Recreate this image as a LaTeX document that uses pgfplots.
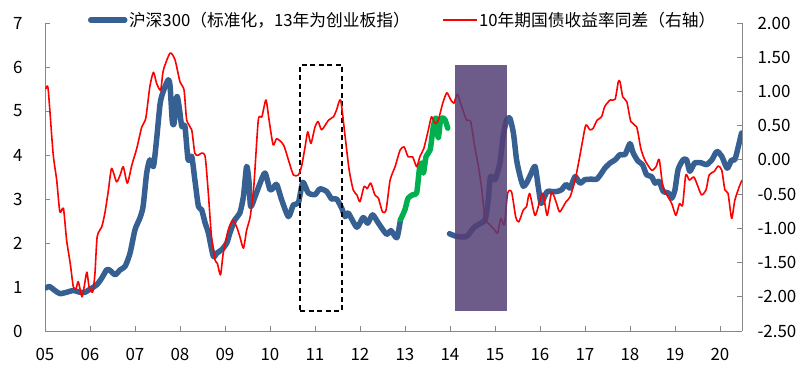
\documentclass[border=0pt]{standalone}
\usepackage{fontspec}
\setmainfont{Noto Sans CJK SC}
\usepackage{pgfplots}
\pgfplotsset{compat=1.18}
\definecolor{hsblue}{RGB}{55,96,146}
\definecolor{hsgreen}{RGB}{0,176,80}
\definecolor{axgray}{RGB}{134,134,134}
\definecolor{boxpurple}{RGB}{84,63,118}
\pgfplotsset{
  base/.style={
    scale only axis, width=697bp, height=308bp,
    xmin=2005, xmax=2020.49,
    tick style={axgray, line width=0.8bp},
    major tick length=5bp,
    tick align=inside,
    ticklabel style={font=\fontsize{17}{20}\selectfont, text=black},
    /pgf/number format/assume math mode=true,
    axis line style={axgray, line width=1bp},
    legend image code/.code={\draw[#1] (0bp,0bp) -- (34bp,0bp);},
    legend style={draw=none, fill=none, inner sep=0pt, outer sep=0pt,
      font=\fontsize{16.8}{18}\selectfont, anchor=west,
      nodes={inner sep=1.5bp}},
  }
}
\begin{document}
\begin{tikzpicture}
\useasboundingbox (-45bp,-43bp) rectangle (762bp,331bp);
\begin{axis}[base,
  axis y line*=left, axis x line*=bottom,
  ymin=0, ymax=7, ytick={0,1,2,3,4,5,6,7},
  yticklabel style={xshift=-19bp},
  xticklabel style={yshift=-14bp},
  xtick={2005,2006,2007,2008,2009,2010,2011,2012,2013,2014,2015,2016,2017,2018,2019,2020},
  xticklabels={05,06,07,08,09,10,11,12,13,14,15,16,17,18,19,20},
  legend style={at={(0.0617,1.0097)}},
]
\addplot[hsblue, line width=5.5bp, line join=round, line cap=round, smooth, tension=0.4] coordinates {
(2005.02,0.98) (2005.10,1.01) (2005.22,0.92) (2005.33,0.85) (2005.48,0.88) (2005.63,0.92)
(2005.78,0.88) (2005.89,0.88) (2006.00,0.95) (2006.15,1.05) (2006.26,1.20) (2006.37,1.39)
(2006.44,1.38) (2006.56,1.28) (2006.67,1.39) (2006.78,1.47) (2006.89,1.77) (2007.00,2.30)
(2007.11,2.57) (2007.18,2.83) (2007.26,3.59) (2007.33,3.89) (2007.41,3.74) (2007.48,4.35)
(2007.56,5.18) (2007.64,5.48) (2007.74,5.71) (2007.78,5.56) (2007.83,4.76) (2007.87,4.73)
(2007.93,5.33) (2007.98,5.10) (2008.04,4.65) (2008.11,4.65) (2008.18,3.89) (2008.26,3.97)
(2008.33,3.44) (2008.41,2.83) (2008.48,2.76) (2008.56,2.45) (2008.63,2.23) (2008.74,1.70)
(2008.82,1.77) (2008.93,1.85) (2009.04,2.00) (2009.11,2.23) (2009.22,2.53) (2009.33,2.68)
(2009.41,3.06) (2009.48,3.74) (2009.53,3.44) (2009.57,2.83) (2009.67,3.06) (2009.78,3.36)
(2009.89,3.59) (2010.00,3.21) (2010.07,3.25) (2010.15,3.33) (2010.26,2.98) (2010.41,2.60)
(2010.52,2.87) (2010.63,2.91) (2010.73,3.38) (2010.85,3.14) (2011.00,3.10) (2011.11,3.23)
(2011.26,3.17) (2011.37,3.00) (2011.48,3.00) (2011.59,2.80) (2011.67,2.60) (2011.74,2.68)
(2011.93,2.36) (2012.07,2.58) (2012.17,2.45) (2012.28,2.64) (2012.41,2.45) (2012.59,2.20)
(2012.69,2.28) (2012.82,2.12) (2012.90,2.53)
};
\addlegendentry{沪深300（标准化，13年为创业板指）}
\addplot[hsgreen, line width=5.5bp, line join=round, line cap=round, smooth, tension=0.4, forget plot] coordinates {
(2012.90,2.53) (2013.00,2.76) (2013.07,3.02) (2013.18,3.10) (2013.26,3.14) (2013.32,3.67)
(2013.37,3.82) (2013.41,3.59) (2013.47,3.97) (2013.56,4.12) (2013.63,4.65) (2013.69,4.84)
(2013.74,4.39) (2013.79,4.80) (2013.84,4.84) (2013.89,4.80) (2013.95,4.61)
};
\addplot[hsblue, line width=5.5bp, line join=round, line cap=round, smooth, tension=0.4, forget plot] coordinates {
(2013.99,2.21) (2014.15,2.15) (2014.37,2.15) (2014.52,2.34) (2014.63,2.42) (2014.78,2.53)
(2014.85,2.98) (2014.90,3.51) (2015.00,3.44) (2015.11,3.82) (2015.18,4.42) (2015.26,4.80)
(2015.33,4.84) (2015.41,4.50) (2015.48,3.89) (2015.56,3.51) (2015.63,3.29) (2015.70,3.36)
(2015.79,3.55) (2015.89,3.74) (2015.96,3.29) (2016.02,2.91) (2016.07,2.98) (2016.16,3.17)
(2016.26,3.17) (2016.37,3.17) (2016.48,3.21) (2016.58,3.33) (2016.67,3.25) (2016.78,3.51)
(2016.89,3.36) (2017.00,3.44) (2017.15,3.45) (2017.26,3.45) (2017.37,3.59) (2017.44,3.70)
(2017.56,3.82) (2017.67,3.89) (2017.78,4.01) (2017.89,4.01) (2018.00,4.26) (2018.07,4.05)
(2018.18,3.86) (2018.28,3.78) (2018.37,3.55) (2018.48,3.51) (2018.56,3.36) (2018.65,3.40)
(2018.74,3.17) (2018.85,3.14) (2018.93,3.02) (2019.00,3.21) (2019.07,3.67) (2019.18,3.89)
(2019.26,3.89) (2019.33,3.63) (2019.44,3.82) (2019.59,3.82) (2019.70,3.78) (2019.82,3.89)
(2019.93,4.08) (2020.04,3.97) (2020.16,3.70) (2020.26,3.89) (2020.33,3.89) (2020.41,4.20)
(2020.48,4.50)
};
\addplot[black, line width=2bp, dash pattern=on 5bp off 3.5bp, line join=miter, forget plot] coordinates {
(2010.67,0.445) (2011.59,0.445) (2011.59,6.05) (2010.67,6.05)
} -- cycle;
\end{axis}
\begin{axis}[base,
  axis y line*=right, axis x line=none,
  ymin=-2.5, ymax=2,
  ytick={-2.5,-2,-1.5,-1,-0.5,0,0.5,1,1.5,2},
  yticklabel style={xshift=12bp, /pgf/number format/.cd, fixed, fixed zerofill, precision=2},
  legend style={at={(0.5696,1.0097)}},
]
\addplot[red, line width=1.6bp, line join=round, smooth, tension=0.4] coordinates {
(2005.02,1.035) (2005.07,1.035) (2005.18,0.095) (2005.26,-0.295) (2005.33,-0.76) (2005.41,-0.71)
(2005.48,-1.17) (2005.56,-1.51) (2005.63,-1.855) (2005.69,-1.88) (2005.74,-1.78) (2005.82,-2.00)
(2005.87,-1.855) (2005.93,-1.64) (2005.98,-1.855) (2006.06,-1.93) (2006.11,-1.66) (2006.16,-1.12)
(2006.26,-0.98) (2006.33,-0.78) (2006.41,-0.44) (2006.48,-0.125) (2006.59,-0.32) (2006.67,-0.22)
(2006.74,-0.10) (2006.83,-0.34) (2006.93,-0.076) (2007.04,0.17) (2007.15,0.48) (2007.24,0.61)
(2007.33,1.07) (2007.41,1.28) (2007.48,1.12) (2007.57,1.02) (2007.63,1.31) (2007.78,1.56)
(2007.89,1.46) (2008.00,1.14) (2008.09,1.02) (2008.15,0.58) (2008.26,0.44) (2008.33,0.095)
(2008.41,0.07) (2008.48,0.10) (2008.56,0.045) (2008.63,-0.49) (2008.70,-1.12) (2008.78,-1.465)
(2008.83,-1.51) (2008.90,-1.68) (2008.96,-1.37) (2009.07,-1.03) (2009.17,-0.88) (2009.26,-0.98)
(2009.33,-1.12) (2009.41,-1.29) (2009.48,-1.03) (2009.56,-0.83) (2009.64,-0.39) (2009.74,0.58)
(2009.82,0.63) (2009.91,0.875) (2009.98,0.58) (2010.07,0.22) (2010.15,0.31) (2010.30,0.22)
(2010.41,0.0) (2010.52,-0.22) (2010.63,-0.22) (2010.70,-0.10) (2010.78,0.19) (2010.84,0.41)
(2010.91,0.24) (2011.00,0.48) (2011.07,0.56) (2011.15,0.44) (2011.30,0.58) (2011.41,0.63)
(2011.48,0.73) (2011.57,0.875) (2011.67,0.34) (2011.76,-0.15) (2011.85,-0.44) (2011.93,-0.51)
(2012.00,-0.61) (2012.09,-0.39) (2012.16,-0.42) (2012.24,-0.34) (2012.33,-0.51) (2012.41,-0.56)
(2012.50,-0.76) (2012.58,-0.73) (2012.67,-0.295) (2012.78,-0.10) (2012.89,0.14) (2012.98,0.19)
(2013.07,0.045) (2013.17,0.045) (2013.26,-0.10) (2013.33,0.045) (2013.42,0.17) (2013.52,0.44)
(2013.59,0.63) (2013.67,0.53) (2013.74,0.58) (2013.84,0.83) (2013.93,0.98) (2014.02,0.875)
(2014.09,0.83) (2014.16,0.96) (2014.26,0.78) (2014.37,0.58) (2014.46,0.56) (2014.55,0.19)
(2014.62,-0.05) (2014.70,-0.39) (2014.78,-0.855) (2014.89,-0.95) (2015.00,-1.03) (2015.06,-1.07)
(2015.13,-0.855) (2015.21,-0.95) (2015.28,-0.49) (2015.37,-0.47) (2015.46,-0.83) (2015.53,-0.905)
(2015.63,-0.73) (2015.70,-0.685) (2015.77,-0.49) (2015.89,-0.81) (2016.00,-0.59) (2016.07,-0.49)
(2016.16,-0.81) (2016.26,-0.47) (2016.37,-0.64) (2016.44,-0.76) (2016.58,-0.61) (2016.67,-0.54)
(2016.78,-0.295) (2016.87,0.0) (2016.95,0.29) (2017.02,0.51) (2017.11,0.44) (2017.18,0.46)
(2017.27,0.58) (2017.37,0.63) (2017.44,0.78) (2017.56,0.875) (2017.67,0.885) (2017.74,1.14)
(2017.78,1.14) (2017.84,0.92) (2017.93,0.85) (2018.02,0.56) (2018.15,0.48) (2018.24,0.17)
(2018.33,0.0) (2018.48,-0.15) (2018.58,-0.10) (2018.65,0.007) (2018.73,-0.39) (2018.82,-0.51)
(2018.93,-0.64) (2019.02,-0.81) (2019.10,-0.64) (2019.17,-0.66) (2019.24,-0.22) (2019.32,-0.295)
(2019.42,-0.25) (2019.50,-0.37) (2019.59,-0.51) (2019.69,-0.44) (2019.76,-0.22) (2019.87,-0.17)
(2019.96,-0.09) (2020.04,-0.15) (2020.11,-0.44) (2020.18,-0.49) (2020.26,-0.855) (2020.33,-0.59)
(2020.43,-0.39) (2020.49,-0.295)
};
\addlegendentry{10年期国债收益率同差（右轴）}
\addplot[draw=none, fill=boxpurple, fill opacity=0.85, forget plot] coordinates {
(2014.11,-2.214) (2015.26,-2.214) (2015.26,1.389) (2014.11,1.389)
} -- cycle;
\end{axis}
\end{tikzpicture}
\end{document}
